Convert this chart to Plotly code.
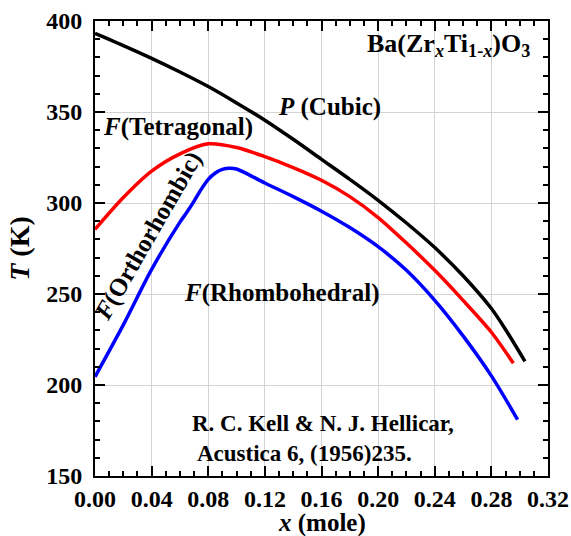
import plotly.graph_objects as go

x_cubic = [0.0, 0.02, 0.04, 0.06, 0.08, 0.10, 0.12, 0.14, 0.16, 0.18, 0.20, 0.22, 0.24, 0.26, 0.28, 0.29, 0.3037]
t_cubic = [393.2, 386.5, 379.5, 372.0, 364.0, 355.0, 345.5, 335.0, 324.0, 313.0, 301.5, 289.0, 275.5, 260.0, 242.0, 230.5, 213.0]

x_tetra = [0.0, 0.02, 0.04, 0.06, 0.08, 0.10, 0.12, 0.14, 0.16, 0.18, 0.20, 0.22, 0.24, 0.26, 0.28, 0.2955]
t_tetra = [285.5, 303.0, 317.5, 327.0, 332.5, 330.5, 325.5, 319.5, 312.5, 303.5, 292.0, 278.0, 263.0, 246.5, 229.0, 212.0]

x_ortho = [0.0, 0.02, 0.04, 0.06, 0.065, 0.07, 0.075, 0.08, 0.085, 0.09, 0.095, 0.10, 0.12, 0.14, 0.16, 0.18, 0.20, 0.22, 0.24, 0.26, 0.28, 0.2985]
t_ortho = [204.5, 233.0, 263.5, 289.5, 295.0, 301.0, 307.5, 313.0, 316.5, 318.5, 319.1, 318.7, 311.0, 303.5, 295.5, 286.5, 276.0, 263.0, 246.5, 227.0, 205.0, 181.0]

FONT = "Liberation Serif, Times New Roman, serif"

fig = go.Figure()
fig.add_trace(go.Scatter(x=x_cubic, y=t_cubic, mode="lines", line=dict(color="black", width=3.5, shape="spline", smoothing=0.8)))
fig.add_trace(go.Scatter(x=x_tetra, y=t_tetra, mode="lines", line=dict(color="#ff0000", width=3.5, shape="spline", smoothing=0.8)))
fig.add_trace(go.Scatter(x=x_ortho, y=t_ortho, mode="lines", line=dict(color="#0000ff", width=3.5, shape="spline", smoothing=0.8)))

def ann(x, y, text, size=25, angle=0, xanchor="center"):
    fig.add_annotation(x=x, y=y, text=text, showarrow=False, textangle=angle, xanchor=xanchor,
                       font=dict(family=FONT, size=size, color="black", weight="bold"))

ann(0.25, 386.8, "Ba(Zr<sub><i>x</i></sub>Ti<sub>1-<i>x</i></sub>)O<sub>3</sub>", size=26)
ann(0.1653, 352.7, "<i>P</i> (Cubic)")
ann(0.0586, 342.0, "<i>F</i>(Tetragonal)")
ann(0.0375, 282.0, "<i>F</i>(Orthorhombic)", angle=-60)
ann(0.132, 250.5, "<i>F</i>(Rhombohedral)")
ann(0.0671, 179.0, "R. C. Kell &amp; N. J. Hellicar,", size=23, xanchor="left")
ann(0.0706, 162.6, "Acustica 6, (1956)235.", size=23, xanchor="left")

# x-axis title as a paper-positioned annotation
fig.add_annotation(x=0.5, y=0, xref="paper", yref="paper", yanchor="middle", yshift=-47,
                   text="<i>x</i> (mole)", showarrow=False,
                   font=dict(family=FONT, size=25, color="black", weight="bold"))

axis_common = dict(
    showline=True, linecolor="black", linewidth=2, mirror="allticks",
    ticks="inside", ticklen=10, tickwidth=2, tickcolor="black",
    showgrid=True, gridcolor="#d3d3d3", gridwidth=1, zeroline=False,
    automargin=False,
    tickfont=dict(family=FONT, size=24, color="black", weight="bold"),
)

fig.update_xaxes(range=[0, 0.32], dtick=0.04, tickformat=".2f", ticklabelstandoff=0,
                 minor=dict(dtick=0.01, ticks="inside", ticklen=5, tickwidth=2, tickcolor="black", showgrid=False),
                 **axis_common)
fig.update_yaxes(range=[150, 400], dtick=50, ticklabelstandoff=6,
                 minor=dict(dtick=10, ticks="inside", ticklen=5, tickwidth=2, tickcolor="black", showgrid=False),
                 title=dict(text="<i>T</i> (K)", font=dict(family=FONT, size=28, color="black", weight="bold"), standoff=8),
                 **axis_common)

fig.update_layout(width=571, height=536, margin=dict(l=95, r=23, t=21, b=60),
                  plot_bgcolor="white", paper_bgcolor="white", showlegend=False)

fig.write_html("out.html")
